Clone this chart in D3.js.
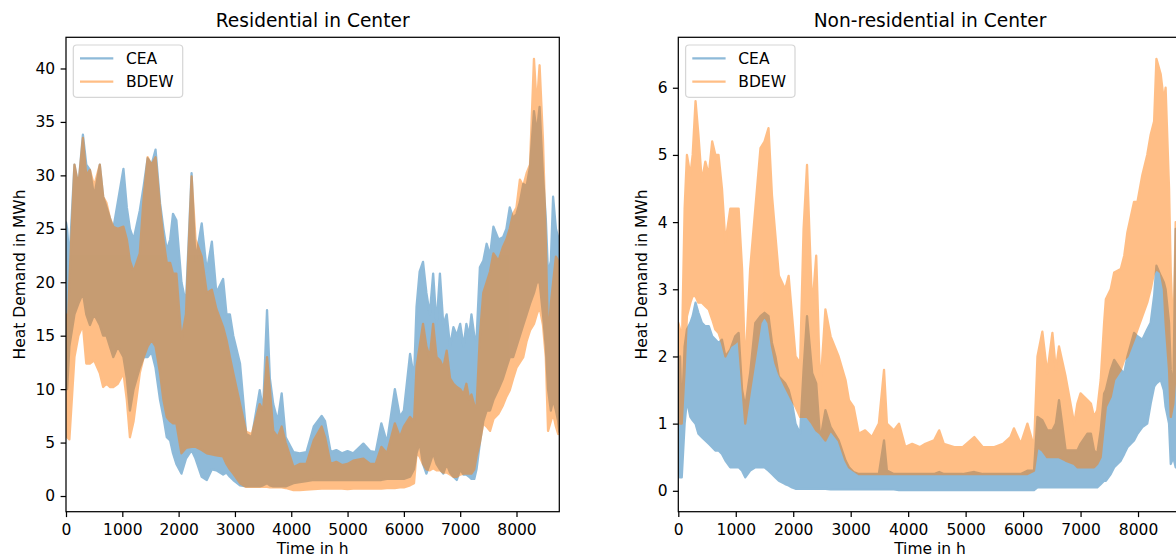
<!DOCTYPE html>
<html>
<head>
<meta charset="utf-8">
<script src="https://cdn.jsdelivr.net/npm/d3@7"></script>
<style>
  html, body { margin: 0; padding: 0; background: #fff; }
  svg { display: block; font-family: "DejaVu Sans", sans-serif; }
</style>
</head>
<body>
<svg id="chart" width="1176" height="559"></svg>
<script>
// ---------------- data (envelopes of the hourly series) ----------------
const titles = ["Residential in Center", "Non-residential in Center"];
const seriesNames = ["CEA", "BDEW"];
const xTicks = [0, 1000, 2000, 3000, 4000, 5000, 6000, 7000, 8000];
const resYTicks = [0, 5, 10, 15, 20, 25, 30, 35, 40];
const nonresYTicks = [0, 1, 2, 3, 4, 5, 6];
const hoursInYear = 8760;

const resHours = [
  0, 20, 60, 150, 220, 300, 360, 425, 500, 600,
  660, 720, 780, 840, 920, 1020, 1080, 1135, 1200, 1310,
  1380, 1450, 1520, 1590, 1670, 1730, 1790, 1850, 1900, 1960,
  2050, 2130, 2230, 2300, 2410, 2500, 2590, 2670, 2790, 2850,
  2910, 2970, 3090, 3200, 3300, 3440, 3500, 3570, 3620, 3680,
  3760, 3830, 3900, 4040, 4150, 4270, 4400, 4540, 4600, 4700,
  4800, 4900, 5000, 5100, 5280, 5400, 5500, 5600, 5700, 5840,
  5930, 6000, 6110, 6180, 6225, 6280, 6340, 6400, 6460, 6520,
  6580, 6640, 6700, 6760, 6820, 6880, 6940, 7000, 7060, 7110,
  7160, 7200, 7250, 7290, 7350, 7410, 7470, 7530, 7590, 7680,
  7760, 7820, 7880, 7940, 8000, 8060, 8120, 8180, 8240, 8310,
  8360, 8410, 8470, 8520, 8560, 8610, 8650, 8700, 8740, 8760
];
const resCeaHigh = [
  25.6, 25, 22, 31, 29, 33.8, 31, 30.5, 28, 31,
  28, 27, 26, 25, 27.5, 30.6, 27, 25, 24, 26.7,
  29, 31.6, 31, 32.4, 27.4, 25, 23, 24, 26.4, 25.8,
  20, 18, 30.2, 22, 25.5, 21, 23.8, 19, 20.3, 17,
  17, 15, 12.4, 5.8, 5.5, 9.9, 8, 17.4, 11, 8.6,
  7, 9.6, 5.5, 4.1, 4.0, 4.1, 6.5, 7.5, 7.0, 4.1,
  4.3, 4.0, 4.2, 4.0, 4.9, 4.2, 4.1, 6.8, 5.0, 10,
  7.4, 8, 13.3, 11, 17.7, 21, 21.9, 19, 17, 20.8,
  16, 20.8, 16, 17, 14, 15.8, 15, 16.1, 14, 16.1,
  15, 17, 15, 14.6, 21.4, 22, 23.6, 22.5, 25.2, 24,
  24.2, 25, 27, 26, 26.4, 27.5, 29.2, 29, 30.8, 36,
  34, 36.4, 30, 26, 20.8, 22, 28, 25, 24.2, 22
];
const resCeaLow = [
  12, 10, 14, 17, 18, 19, 17, 16, 17, 16,
  15, 15, 14, 13, 14, 13, 11, 8, 10, 12,
  13, 13, 13.5, 12, 9, 7.4, 5.5, 5.2, 4, 3,
  2.1, 3.5, 4.3, 3.5, 1.8, 1.5, 2.5, 2.4, 2.0, 2.2,
  1.8, 1.5, 1.0, 0.9, 0.9, 0.9, 1.0, 1.2, 1.0, 0.9,
  0.9, 0.9, 0.9, 1.2, 1.3, 1.4, 1.5, 1.5, 1.5, 1.5,
  1.5, 1.5, 1.5, 1.5, 1.5, 1.5, 1.5, 1.5, 1.6, 1.6,
  1.6, 1.6, 1.8, 2.5, 4, 5, 3, 2.1, 3, 4,
  3, 2.5, 2.1, 3, 2.2, 1.8, 1.5, 2.5, 2, 2,
  1.8, 1.6, 1.6, 2.5, 5, 7, 8, 8, 9, 10,
  11, 12, 13, 13, 14, 15, 16, 17, 18, 19,
  20, 20, 17, 14, 10, 8, 9, 8, 7, 6
];
const resBdewHigh = [
  17, 14, 20, 31, 29, 33.5, 30, 30.5, 29, 31,
  28, 27.4, 26, 25.2, 25, 25.2, 24, 22, 21, 22.7,
  28, 31.7, 31, 31.7, 27, 24, 21.8, 21.8, 20.8, 20.8,
  14.6, 17, 29.9, 24, 22.4, 19, 19.3, 17.5, 15.8, 14.6,
  13, 11.5, 8.6, 6, 5.8, 8.6, 8, 13, 10, 6.1,
  5.5, 6.5, 5, 2.7, 3.0, 3, 5.2, 6.5, 5.5, 3,
  3.2, 2.9, 3.0, 3.3, 3.5, 3.0, 3.0, 4.6, 4.0, 6.8,
  5.5, 6.5, 7.4, 7, 12.1, 14, 16.1, 14, 13, 16.1,
  13, 12.7, 12, 13.6, 11, 10.5, 10.2, 10, 9.5, 10.5,
  9.0, 9.5, 8.5, 8.3, 15, 19, 20, 21, 22.7, 22,
  23.3, 24, 25, 26.4, 27, 29.6, 29, 30.2, 31, 40.9,
  36.4, 40.3, 33.3, 24, 14.6, 18, 20, 22.4, 22, 20.8
];
const resBdewLow = [
  6, 5.5, 5.3, 13, 15, 16, 12.4, 12.4, 12.7, 11.5,
  10.2, 10.5, 10.2, 10.2, 10.5, 11.5, 9, 5.5, 7, 11.5,
  13, 14, 14.6, 14, 11.5, 9, 7.4, 7, 6.8, 6.8,
  4, 4.5, 4.6, 4.6, 4.3, 4, 3.9, 3.8, 3.7, 3.0,
  2.5, 2.1, 1.2, 0.85, 0.85, 0.85, 0.85, 0.85, 0.8, 0.8,
  0.8, 0.8, 0.75, 0.55, 0.55, 0.6, 0.65, 0.7, 0.7, 0.7,
  0.7, 0.7, 0.65, 0.7, 0.7, 0.7, 0.7, 0.7, 0.75, 0.75,
  0.8, 0.8, 1.0, 1.2, 4, 3.7, 3, 2.5, 2.4, 2.6,
  2.4, 2.4, 2.2, 2.2, 2.0, 1.8, 1.8, 2.0, 2.1, 2.1,
  2.1, 2.1, 2.5, 3.7, 5, 6.8, 6.5, 6.1, 7.2, 7.7,
  8.5, 9.3, 9.9, 11, 12, 12.5, 13, 14.5, 15.5, 16.1,
  17, 17.7, 16, 13, 6.1, 7, 7.7, 6.5, 5.8, 6
];

const nonresHours = [
  0, 30, 60, 110, 150, 210, 250, 300, 350, 410,
  470, 530, 590, 645, 700, 760, 820, 905, 990, 1050,
  1110, 1165, 1250, 1340, 1430, 1500, 1570, 1630, 1690, 1750,
  1860, 1920, 1980, 2040, 2120, 2180, 2240, 2330, 2400, 2470,
  2560, 2650, 2790, 2910, 2970, 3050, 3140, 3250, 3370, 3490,
  3580, 3630, 3750, 3840, 3950, 4070, 4200, 4300, 4450, 4540,
  4620, 4800, 4950, 5150, 5300, 5500, 5650, 5780, 5840, 5960,
  6075, 6190, 6250, 6335, 6420, 6510, 6570, 6625, 6740, 6890,
  6945, 7000, 7120, 7180, 7235, 7290, 7350, 7410, 7440, 7525,
  7585, 7700, 7760, 7815, 7930, 7990, 8075, 8160, 8220, 8280,
  8320, 8395, 8450, 8480, 8540, 8570, 8615, 8655, 8700, 8760
];
const nonresCeaHigh = [
  1.5, 2.0, 1.1, 2.15, 2.4, 2.5, 2.6, 2.8, 2.65, 2.5,
  2.45, 2.45, 2.3, 2.25, 2.2, 2.25, 2.0, 2.1, 2.3, 2.35,
  1.5, 1.25, 1.75, 2.5, 2.6, 2.65, 2.6, 2.2, 2.0, 1.7,
  1.6, 1.5, 1.3, 1.0, 0.85, 1.8, 2.6, 1.75, 1.6, 0.75,
  1.2, 0.95, 0.75, 0.45, 0.35, 0.28, 0.25, 0.25, 0.25, 0.25,
  0.75, 0.3, 0.25, 0.25, 0.25, 0.25, 0.25, 0.25, 0.25, 0.28,
  0.25, 0.25, 0.25, 0.28, 0.25, 0.25, 0.25, 0.25, 0.25, 0.25,
  0.3, 0.3, 1.1, 1.05, 0.9, 0.9, 1.0, 1.35, 0.6, 0.6,
  0.6, 0.7, 0.85, 0.85, 0.6, 0.55, 0.9, 1.45, 1.5, 1.8,
  1.95, 1.8, 1.75, 2.0, 2.35, 2.3, 2.25, 2.4, 2.5, 2.9,
  3.35, 3.2, 3.1, 3.0, 2.5, 1.8, 1.5, 3.9, 3.0, 2.5
];
const nonresCeaLow = [
  0.3, 0.2, 0.2, 1.0, 1.35, 1.1, 1.05, 1.0, 0.85, 0.8,
  0.75, 0.7, 0.65, 0.6, 0.6, 0.55, 0.45, 0.35, 0.35, 0.35,
  0.3, 0.2, 0.3, 0.35, 0.35, 0.35, 0.3, 0.25, 0.2, 0.15,
  0.1, 0.08, 0.05, 0.03, 0.03, 0.03, 0.03, 0.03, 0.03, 0.03,
  0.03, 0.02, 0.02, 0.02, 0.02, 0.02, 0.02, 0.02, 0.02, 0.02,
  0.02, 0.02, 0.02, 0.01, 0.01, 0.01, 0.01, 0.01, 0.01, 0.01,
  0.01, 0.01, 0.01, 0.01, 0.01, 0.01, 0.01, 0.01, 0.01, 0.01,
  0.01, 0.01, 0.05, 0.05, 0.05, 0.05, 0.05, 0.05, 0.05, 0.05,
  0.05, 0.05, 0.05, 0.05, 0.05, 0.05, 0.1, 0.15, 0.15, 0.25,
  0.35, 0.45, 0.55, 0.65, 0.75, 0.85, 0.95, 1.0, 1.3, 1.55,
  1.6, 1.65, 1.5, 1.25, 1.0, 0.4, 0.5, 0.35, 0.4, 0.4
];
const nonresBdewHigh = [
  2.5, 2.4, 2.0, 4.2, 5.0, 4.7, 5.0, 5.8, 5.3, 4.6,
  4.9, 4.7, 5.2, 5.0, 5.0, 4.5, 3.7, 4.2, 4.2, 4.2,
  3.3, 1.8, 3.3, 4.2, 5.1, 5.2, 5.4, 4.4, 3.8, 3.2,
  3.0, 3.2, 2.6, 2.0, 1.9, 3.9, 4.85, 2.7, 3.5, 1.5,
  2.7, 2.3, 2.0, 1.65, 1.35, 1.25, 0.85, 0.9, 0.8, 1.0,
  1.8, 1.0, 0.9, 1.0, 0.65, 0.7, 0.65, 0.7, 0.75, 0.9,
  0.7, 0.65, 0.65, 0.8, 0.65, 0.65, 0.7, 0.8, 0.93, 0.7,
  1.0, 0.65, 2.0, 2.37, 1.75, 2.35, 1.8, 2.15, 1.7, 1.0,
  1.3, 1.45, 1.35, 1.3, 1.1, 1.2, 1.65, 2.5, 2.85, 3.0,
  3.25, 3.3, 3.5, 3.85, 4.3, 4.3, 4.7, 5.0, 5.3, 5.5,
  6.43, 6.2, 5.8, 6.0, 4.5, 3.25, 2.25, 4.0, 3.5, 3.0
];
const nonresBdewLow = [
  1.2, 1.0, 1.0, 1.8, 2.6, 2.8, 2.9, 2.9, 2.8, 2.8,
  2.75, 2.7, 2.55, 2.4, 2.35, 2.2, 2.0, 2.15, 2.2, 2.25,
  1.6, 1.0, 1.5, 2.0, 2.5, 2.6, 2.5, 2.15, 1.9, 1.75,
  1.55, 1.45, 1.35, 1.25, 1.1, 1.1, 1.1, 1.0, 0.9, 0.85,
  0.75, 0.9, 0.75, 0.45, 0.35, 0.3, 0.25, 0.25, 0.25, 0.25,
  0.25, 0.25, 0.25, 0.25, 0.25, 0.25, 0.25, 0.25, 0.25, 0.25,
  0.25, 0.25, 0.25, 0.25, 0.25, 0.25, 0.25, 0.25, 0.25, 0.25,
  0.25, 0.3, 0.65, 0.6, 0.5, 0.5, 0.5, 0.5, 0.45, 0.4,
  0.35, 0.35, 0.35, 0.35, 0.35, 0.4, 0.5, 1.0, 1.25, 1.4,
  1.65, 1.8, 1.95, 2.0, 2.25, 2.4, 2.6, 2.8, 3.0, 3.25,
  3.3, 3.25, 3.0, 2.5, 1.8, 1.1, 1.3, 1.75, 1.5, 1.3
];

// ---------------- drawing ----------------
const colors = ["#1f77b4", "#ff7f0e"];
const FS = 15.5, TITLE_FS = 18.6, LW = 1.24, TICK = 5.4, PAD = 5.4, LINE_W = 2.3;
const svg = d3.select("#chart");
svg.append("rect").attr("width", 1176).attr("height", 559).attr("fill", "#fff");

const panels = [
  { left: 66, right: 559.3, title: titles[0], yTicks: resYTicks, ylabX: 25,
    hours: resHours, series: [[resCeaHigh, resCeaLow], [resBdewHigh, resBdewLow]] },
  { left: 678.3, right: 1181.7, title: titles[1], yTicks: nonresYTicks, ylabX: 647,
    hours: nonresHours, series: [[nonresCeaHigh, nonresCeaLow], [nonresBdewHigh, nonresBdewLow]] }
];
const axTop = 37.3, axBottom = 511.7;

panels.forEach((p, pi) => {
  const x = d3.scaleLinear().domain([0, hoursInYear]).range([p.left, p.right]);
  const allHi = d3.max(p.series, s => d3.max(s[0]));
  const allLo = d3.min(p.series, s => d3.min(s[1]));
  const m = (allHi - allLo) * 0.05;
  const y = d3.scaleLinear().domain([allLo - m, allHi + m]).range([axBottom, axTop]);

  const clipId = "clip" + pi;
  svg.append("clipPath").attr("id", clipId).append("rect")
    .attr("x", p.left).attr("y", axTop).attr("width", p.right - p.left).attr("height", axBottom - axTop);

  const plot = svg.append("g").attr("clip-path", `url(#${clipId})`);
  const area = d3.area().x(d => x(d.t)).y0(d => y(d.lo)).y1(d => y(d.hi));
  p.series.forEach((s, si) => {
    const n = Math.min(p.hours.length, s[0].length, s[1].length);
    const data = d3.range(n).map(i => ({ t: p.hours[i], hi: s[0][i], lo: s[1][i] }));
    plot.append("path").datum(data)
      .attr("d", area)
      .attr("fill", colors[si])
      .attr("stroke", colors[si])
      .attr("stroke-width", LINE_W)
      .attr("stroke-linejoin", "round")
      .attr("opacity", 0.5);
  });

  // axes
  const xAxis = svg.append("g").attr("transform", `translate(0,${axBottom})`)
    .call(d3.axisBottom(x).tickValues(xTicks).tickFormat(d3.format("d")).tickSize(TICK).tickPadding(PAD + 1.2));
  const yAxis = svg.append("g").attr("transform", `translate(${p.left},0)`)
    .call(d3.axisLeft(y).tickValues(p.yTicks).tickFormat(d3.format("d")).tickSize(TICK).tickPadding(PAD));
  [xAxis, yAxis].forEach(a => {
    a.select(".domain").remove();
    a.selectAll(".tick line").attr("stroke", "#000").attr("stroke-width", LW);
    a.selectAll(".tick text").attr("fill", "#000").attr("font-size", FS)
      .attr("font-family", "DejaVu Sans");
  });
  // spines
  svg.append("rect").attr("x", p.left).attr("y", axTop)
    .attr("width", p.right - p.left).attr("height", axBottom - axTop)
    .attr("fill", "none").attr("stroke", "#000").attr("stroke-width", LW);

  // title
  const cx = (p.left + p.right) / 2;
  svg.append("text").attr("x", cx).attr("y", 27).attr("text-anchor", "middle")
    .attr("font-size", TITLE_FS).attr("fill", "#000").text(p.title);
  // x label
  svg.append("text").attr("x", cx).attr("y", 554).attr("text-anchor", "middle")
    .attr("font-size", FS).attr("fill", "#000").text("Time in h");
  // y label
  svg.append("text").attr("transform", `translate(${p.ylabX},${(axTop + axBottom) / 2}) rotate(-90)`)
    .attr("text-anchor", "middle").attr("font-size", FS).attr("fill", "#000")
    .text("Heat Demand in MWh");

  // legend
  const lg = svg.append("g").attr("transform", `translate(${p.left + 7.3},45)`);
  lg.append("rect").attr("width", 109.4).attr("height", 52.3).attr("rx", 3.5)
    .attr("fill", "#fff").attr("fill-opacity", 0.8)
    .attr("stroke", "#d6d6d6").attr("stroke-width", LW);
  seriesNames.forEach((name, si) => {
    const ly = 13.3 + si * 23.4;
    lg.append("line").attr("x1", 6.7).attr("x2", 40).attr("y1", ly).attr("y2", ly)
      .attr("stroke", colors[si]).attr("stroke-width", LINE_W).attr("opacity", 0.5);
    lg.append("text").attr("x", 52.7).attr("y", ly + 5.7)
      .attr("font-size", FS).attr("fill", "#000").text(name);
  });
});
</script>
</body>
</html>
